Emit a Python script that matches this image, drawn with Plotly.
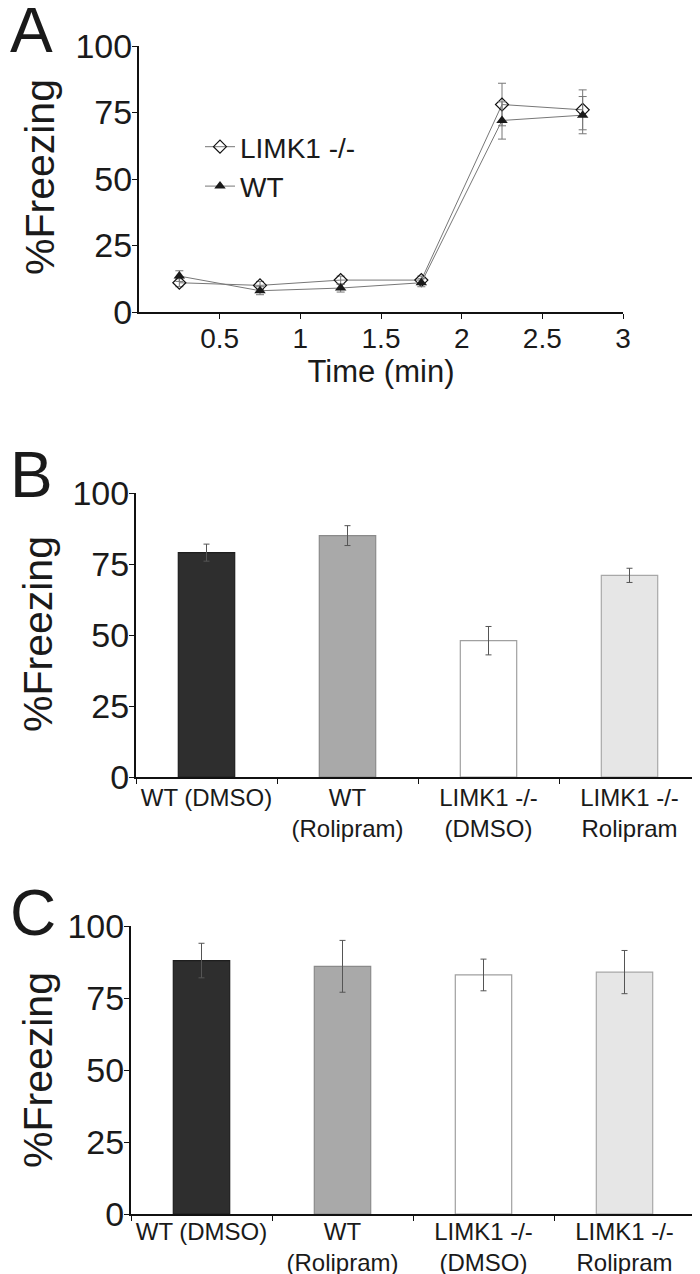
import plotly.graph_objects as go

# panel A - freezing over time
time_min = [0.25, 0.75, 1.25, 1.75, 2.25, 2.75]
limk1_freezing = [11, 10, 12, 12, 78, 76]
limk1_err = [1.5, 1.5, 1.5, 1.5, 8, 7.5]
wt_freezing = [13.5, 8, 9, 11, 72, 74]
wt_err = [2, 1.5, 1.5, 1.5, 7, 7]

# panels B and C - bar groups
groups = ['WT (DMSO)', 'WT<br>(Rolipram)', 'LIMK1 -/-<br>(DMSO)', 'LIMK1 -/-<br>Rolipram']
b_freezing = [79, 85, 48, 71]
b_err = [3, 3.5, 5, 2.5]
c_freezing = [88, 86, 83, 84]
c_err = [6, 9, 5.5, 7.5]

bar_fill = ['#2e2e2e', '#a9a9a9', '#ffffff', '#e6e6e6']
bar_edge = ['#1e1e1e', '#8a8a8a', '#a0a0a0', '#a8a8a8']

W, H = 700, 1274
OFF = 8  # page body margin of the html page
txt = '#1a1a1a'
regular = 'Liberation Sans, Arial, sans-serif'


def px_x(p):
    return (p - OFF) / W


def px_y(p):
    return 1 - (p - OFF) / H


fig = go.Figure()

fig.add_trace(go.Scatter(
    x=time_min, y=limk1_freezing, name='LIMK1 -/-', mode='lines+markers',
    line=dict(color='#777777', width=1),
    marker=dict(symbol='diamond-open', size=10, color='#111111', line=dict(width=1.2)),
    error_y=dict(type='data', array=limk1_err, color='#777777', thickness=1, width=4),
    xaxis='x', yaxis='y',
))
fig.add_trace(go.Scatter(
    x=time_min, y=wt_freezing, name='WT', mode='lines+markers',
    line=dict(color='#777777', width=1),
    marker=dict(symbol='triangle-up', size=10, color='#1a1a1a'),
    error_y=dict(type='data', array=wt_err, color='#777777', thickness=1, width=4),
    xaxis='x', yaxis='y',
))

for vals, errs, xa, ya in [(b_freezing, b_err, 'x2', 'y2'), (c_freezing, c_err, 'x3', 'y3')]:
    fig.add_trace(go.Bar(
        x=groups, y=vals, width=0.4, showlegend=False,
        marker=dict(color=bar_fill, line=dict(color=bar_edge, width=1.2)),
        error_y=dict(type='data', array=errs, color='#555555', thickness=1, width=3),
        xaxis=xa, yaxis=ya,
    ))

yax = dict(range=[0, 100], tickvals=[0, 25, 50, 75, 100], showline=True, linecolor='#111111',
           linewidth=2, ticks='outside', ticklen=5, tickcolor='#111111', showgrid=False,
           zeroline=False, automargin=False, ticklabelstandoff=-7,
           tickfont=dict(family=regular, size=34, color=txt))
cat_x = dict(showline=True, linecolor='#111111', linewidth=2, ticks='outside', ticklen=5,
             tickcolor='#111111', tickson='boundaries', showgrid=False, range=[-0.5, 3.5],
             tickangle=0, automargin=False,
             tickfont=dict(family=regular, size=24, color=txt))

fig.update_layout(
    width=W, height=H,
    margin=dict(l=0, r=0, t=0, b=0),
    paper_bgcolor='white', plot_bgcolor='white',
    xaxis=dict(domain=[px_x(139), px_x(623)], range=[0, 3], tickvals=[0.5, 1, 1.5, 2, 2.5, 3],
               ticktext=['0.5', '1', '1.5', '2', '2.5', '3'], showline=True, linecolor='#111111',
               linewidth=2, ticks='outside', ticklen=5, tickcolor='#111111', showgrid=False,
               zeroline=False, automargin=False, tickangle=0, ticklabelstandoff=-5,
               tickfont=dict(family=regular, size=28, color=txt),
               title=dict(text='Time (min)', font=dict(family=regular, size=31, color=txt), standoff=6),
               anchor='y'),
    yaxis=dict(domain=[px_y(312), px_y(46)], anchor='x', **yax),
    xaxis2=dict(domain=[px_x(136), px_x(700)], anchor='y2', ticklabelstandoff=-2, **cat_x),
    yaxis2=dict(domain=[px_y(777), px_y(493)], anchor='x2', **yax),
    xaxis3=dict(domain=[px_x(131), px_x(695)], anchor='y3', ticklabelstandoff=-5, **cat_x),
    yaxis3=dict(domain=[px_y(1214), px_y(926)], anchor='x3', **yax),
    legend=dict(x=px_x(200), y=px_y(122), xanchor='left', yanchor='top',
                bgcolor='rgba(0,0,0,0)', font=dict(family=regular, size=28, color=txt),
                itemwidth=30, tracegroupgap=0),
    showlegend=True,
)

# panel letters and y titles
for letter, cy in [('A', 30), ('B', 475), ('C', 913)]:
    fig.add_annotation(text=letter, x=0, y=px_y(cy), xref='paper', yref='paper',
                       xanchor='left', yanchor='middle', showarrow=False,
                       font=dict(family=regular, size=64, color=txt))
for cx, cy in [(40, 177), (38, 634), (38, 1070)]:
    fig.add_annotation(text='%Freezing', x=px_x(cx), y=px_y(cy), xref='paper', yref='paper',
                       xanchor='center', yanchor='middle', textangle=-90, showarrow=False,
                       font=dict(family=regular, size=41, color=txt))

fig.write_html("out.html")
